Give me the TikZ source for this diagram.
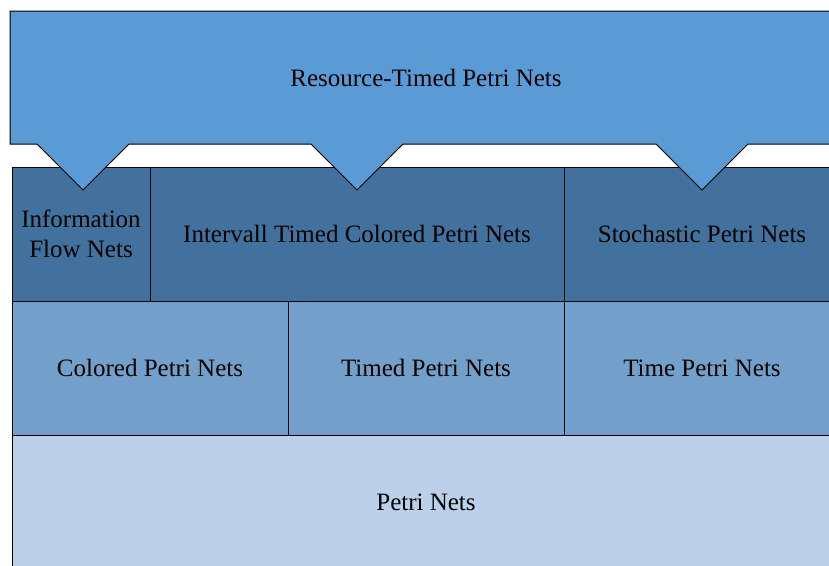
\documentclass[tikz,border=0pt]{standalone}
\usepackage{fontspec}
\setmainfont{Liberation Serif}
\definecolor{topblue}{RGB}{91,155,213}
\definecolor{darkblue}{RGB}{65,113,156}
\definecolor{midblue}{RGB}{115,160,203}
\definecolor{paleblue}{RGB}{189,208,233}
\begin{document}
\begin{tikzpicture}[x=1pt,y=-1pt,
  cell/.style={draw=black, line width=1pt, rectangle, inner sep=0pt, outer sep=0pt,
    minimum height=134pt, align=center, font=\fontsize{25}{30}\selectfont},
  layerA/.style={cell, fill=darkblue},
  layerB/.style={cell, fill=midblue},
  layerC/.style={cell, fill=paleblue},
  label/.style={inner sep=0pt, align=center, font=\fontsize{25}{30}\selectfont}]
\clip (0,0) rectangle (829,565);
% base layer
\node[layerC, minimum width=828pt] (pn) at (426,502) {Petri Nets};
% second layer
\node[layerB, minimum width=276pt] (cpn) at (150,368) {Colored Petri Nets};
\node[layerB, minimum width=276pt] (tpn) at (426,368) {Timed Petri Nets};
\node[layerB, minimum width=276pt] (tipn) at (702,368) {Time Petri Nets};
% third layer
\node[layerA, minimum width=138pt] (ifn) at (81,234) {Information\\Flow Nets};
\node[layerA, minimum width=414pt] (itcpn) at (357,234) {Intervall Timed Colored Petri Nets};
\node[layerA, minimum width=276pt] (spn) at (702,234) {Stochastic Petri Nets};
% top callout with three pointers
\draw[fill=topblue, line width=1pt, line join=miter]
  (10,11) -- (842,11) -- (842,144)
  -- (748,144) -- (702,190) -- (656,144)
  -- (403,144) -- (357,190) -- (311,144)
  -- (129,144) -- (83,190) -- (37,144)
  -- (10,144) -- cycle;
\node[label] (rtpn) at (426,78) {Resource-Timed Petri Nets};
\end{tikzpicture}
\end{document}
